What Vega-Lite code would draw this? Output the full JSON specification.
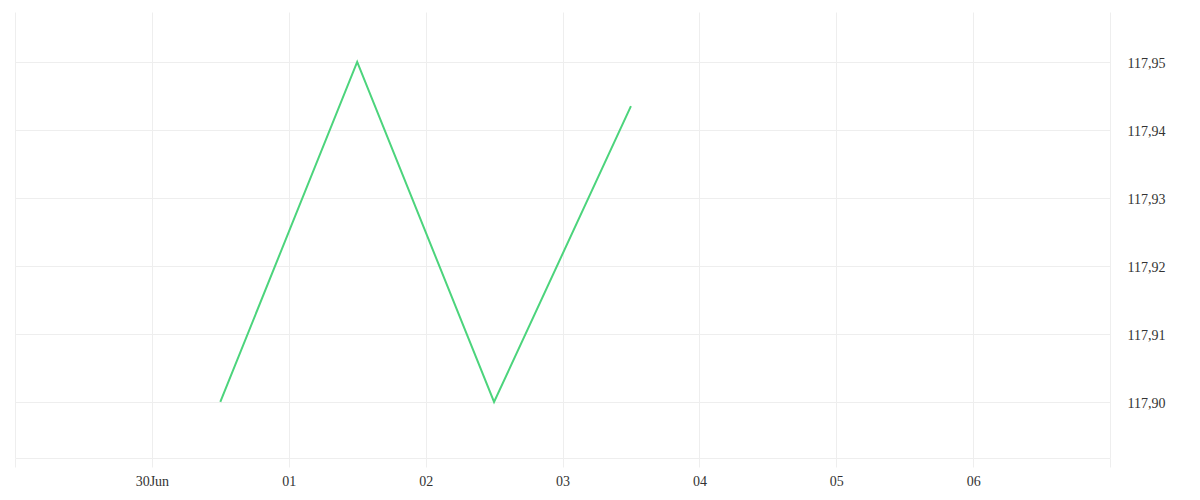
{
  "$schema": "https://vega.github.io/schema/vega-lite/v6.json",
  "width": 1095,
  "height": 446,
  "autosize": {"type": "none"},
  "padding": {"left": 15, "top": 12, "right": 90, "bottom": 42},
  "background": "white",
  "config": {
    "view": {"stroke": null},
    "font": "Liberation Serif",
    "axis": {
      "labelFont": "Liberation Serif",
      "labelFontSize": 14,
      "labelColor": "#333333",
      "gridColor": "#eeeeee",
      "gridWidth": 1,
      "domainColor": "#eeeeee",
      "tickColor": "#eeeeee"
    }
  },
  "data": {
    "values": [
      {"time": "2024-06-30T12:00:00Z", "price": 117.900},
      {"time": "2024-07-01T12:00:00Z", "price": 117.950},
      {"time": "2024-07-02T12:00:00Z", "price": 117.900},
      {"time": "2024-07-03T12:00:00Z", "price": 117.9435}
    ]
  },
  "mark": {"type": "line", "color": "#4cd47c", "strokeWidth": 2},
  "encoding": {
    "x": {
      "field": "time",
      "type": "temporal",
      "title": null,
      "scale": {
        "type": "utc",
        "domain": ["2024-06-29T00:00:00Z", "2024-07-07T00:00:00Z"]
      },
      "axis": {
        "values": [
          "2024-06-29T00:00:00Z", "2024-06-30T00:00:00Z", "2024-07-01T00:00:00Z",
          "2024-07-02T00:00:00Z", "2024-07-03T00:00:00Z", "2024-07-04T00:00:00Z",
          "2024-07-05T00:00:00Z", "2024-07-06T00:00:00Z", "2024-07-07T00:00:00Z"
        ],
        "labelExpr": "utcdate(datum.value) == 29 || utcdate(datum.value) == 7 ? '' : (utcdate(datum.value) == 30 ? '30Jun' : utcFormat(datum.value, '%d'))",
        "tickSize": 9,
        "labelPadding": 7,
        "domain": true,
        "labelFlush": false,
        "labelOverlap": false
      }
    },
    "y": {
      "field": "price",
      "type": "quantitative",
      "title": null,
      "scale": {"domain": [117.89176, 117.95735], "nice": false, "zero": false},
      "axis": {
        "orient": "right",
        "values": [117.90, 117.91, 117.92, 117.93, 117.94, 117.95],
        "labelExpr": "replace(format(datum.value, '.2f'), '.', ',')",
        "ticks": false,
        "domain": false,
        "labelPadding": 17,
        "labelBaseline": "middle",
        "labelOffset": 2
      }
    }
  }
}
